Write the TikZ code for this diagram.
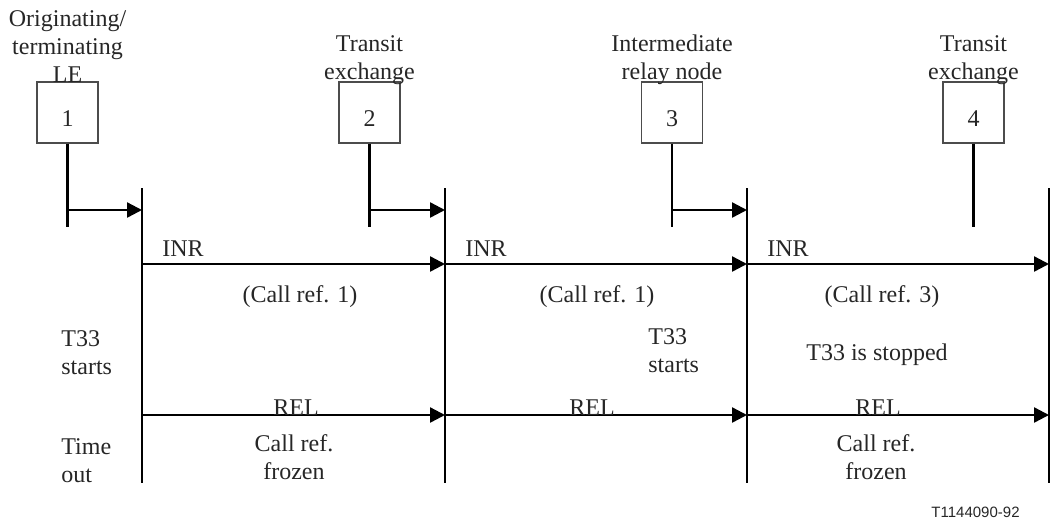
\documentclass[tikz,border=0pt]{standalone}
\usepackage{fontspec}
\setmainfont{Liberation Serif}
\setsansfont{Liberation Sans}
\usetikzlibrary{arrows.meta}

\tikzset{
  exch/.style={draw=black!70,line width=0.7pt,minimum width=30.5pt,minimum height=30.5pt,inner sep=0pt},
  lane/.style={line width=1.2pt},
  sig/.style={lane,-{Triangle[length=7.5pt,width=7.5pt]}},
  lbl/.style={font=\fontsize{12}{14}\selectfont,text=black!85,inner sep=0pt},
  lbltwo/.style={lbl,text depth=0pt},
}

\begin{document}
\begin{tikzpicture}[x=0.5pt,y=-0.5pt]
\useasboundingbox (0,0) rectangle (1055,521);
% signalling lanes
\foreach \i/\x in {1/142,2/445,3/747,4/1049}
{
  \coordinate (top\i) at (\x,188);
  \coordinate (bot\i) at (\x,483);
  \coordinate (inr\i) at (\x,264);
  \coordinate (rel\i) at (\x,415);
  \draw[lane] (top\i) -- (bot\i);
}
% exchanges
\foreach \i/\x/\y/\name in {1/67.5/83/{Originating/\\terminating\\LE},
  2/369.5/80/{Transit\\exchange},3/672/80/{Intermediate\\relay node},
  4/973.5/80/{Transit\\exchange}}
{
  \node[exch] (box\i) at (\x,112.5) {};
  \node[lbl,anchor=base] (num\i) at (\x,126) {\i};
  \node[lbltwo,align=center,anchor=south] (name\i) at (\x,\y) {\name};
  \coordinate (stem\i) at (\x,227);
  \coordinate (tap\i) at (\x,210);
  \draw[lane] (box\i) -- (stem\i);
}
\foreach \i in {1,2,3}
  \draw[sig] (tap\i) -- (tap\i -| top\i);
% messages
\foreach \a/\b in {1/2,2/3,3/4}
{
  \draw[sig] (inr\a) -- (inr\b);
  \draw[sig] (rel\a) -- (rel\b);
  \path (inr\a) ++(20,-8) node[lbl,anchor=base west] (inrtxt\a) {INR};
}
\node[lbl,anchor=base] (reltxt1) at (296,415) {REL};
\node[lbl,anchor=base] (reltxt2) at (592,415) {REL};
\node[lbl,anchor=base] (reltxt3) at (878,415) {REL};
\node[lbl,anchor=base] (ref1) at (300,302) {(Call ref. 1)};
\node[lbl,anchor=base] (ref2) at (597,302) {(Call ref. 1)};
\node[lbl,anchor=base] (ref3) at (882,302) {(Call ref. 3)};
% timer T33
\node[lbltwo,align=left,anchor=south west] (start1) at (61,375) {T33\\starts};
\node[lbltwo,align=left,anchor=south west] (start3) at (648,373) {T33\\starts};
\node[lbl,anchor=base] (stop4) at (877,360) {T33 is stopped};
\node[lbltwo,align=left,anchor=south west] (timeout) at (61,483) {Time\\out};
\node[lbltwo,align=center,anchor=south] (frozen1) at (294,480) {Call ref.\\frozen};
\node[lbltwo,align=center,anchor=south] (frozen4) at (876,480) {Call ref.\\frozen};
\node[lbl,font=\sffamily\fontsize{7.5}{9}\selectfont,anchor=base east] (figno) at (1020,517) {T1144090-92};
\end{tikzpicture}
\end{document}
